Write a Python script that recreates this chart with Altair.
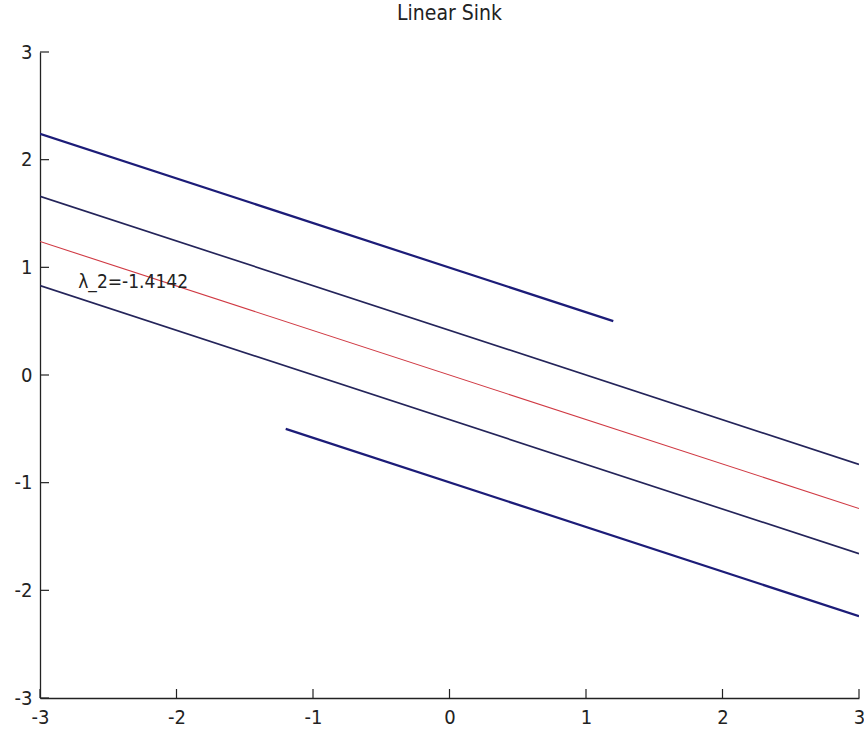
import altair as alt
import pandas as pd

# Trajectory segments (endpoints)
line_id = ["a", "a", "b", "b", "r", "r", "c", "c", "d", "d"]
line_x = [-3.0, 1.2, -3.0, 3.0, -3.0, 3.0, -3.0, 3.0, -1.2, 3.0]
line_y = [2.24, 0.50, 1.66, -0.83, 1.24, -1.24, 0.83, -1.66, -0.50, -2.24]
line_kind = ["thick", "thick", "thin", "thin", "red", "red", "thin", "thin", "thick", "thick"]

ticks = [-3, -2, -1, 0, 1, 2, 3]

label_text = ["λ_2=-1.4142"]
label_x = [-2.72]
label_y = [0.86]

df = pd.DataFrame({"id": line_id, "x": line_x, "y": line_y, "kind": line_kind})
tdf = pd.DataFrame({"t": ticks})
ldf = pd.DataFrame({"x": label_x, "y": label_y, "text": label_text})

W, H = 819, 646
FONT = "DejaVu Sans Condensed, Liberation Sans, sans-serif"
LBL = "datum.value < 0 ? '-' + abs(datum.value) : '' + datum.value"

xs = alt.Scale(domain=[-3, 3], nice=False, zero=False)
ys = alt.Scale(domain=[-3, 3], nice=False, zero=False)

xaxis = alt.Axis(values=ticks, labelExpr=LBL, ticks=False, grid=False, domainColor="#222", domainWidth=1.3,
                 labelFont=FONT, labelFontSize=20, labelColor="#222", labelPadding=9,
                 title=None, labelFlush=False)
yaxis = alt.Axis(values=ticks, labelExpr=LBL, ticks=False, grid=False, domainColor="#222", domainWidth=1.3,
                 labelFont=FONT, labelFontSize=20, labelColor="#222", labelPadding=8,
                 title=None, labelFlush=False)

lines = alt.Chart(df).mark_line(clip=True).encode(
    x=alt.X("x:Q", scale=xs, axis=xaxis),
    y=alt.Y("y:Q", scale=ys, axis=yaxis),
    detail="id:N",
    color=alt.Color("kind:N", scale=alt.Scale(domain=["thick", "thin", "red"],
                                               range=["#1c1c78", "#24245a", "#d03a44"]), legend=None),
    strokeWidth=alt.StrokeWidth("kind:N", scale=alt.Scale(domain=["thick", "thin", "red"],
                                                          range=[2.2, 1.1, 1.1]), legend=None),
)

xticks = alt.Chart(tdf).mark_rule(color="#222", strokeWidth=1.2).encode(
    x=alt.X("t:Q", scale=xs), y=alt.value(H), y2=alt.value(H - 9))
yticks = alt.Chart(tdf).mark_rule(color="#222", strokeWidth=1.2).encode(
    y=alt.Y("t:Q", scale=ys), x=alt.value(0), x2=alt.value(9))

label = alt.Chart(ldf).mark_text(align="left", baseline="middle", font=FONT, fontSize=19,
                                 color="#222").encode(
    x=alt.X("x:Q", scale=xs), y=alt.Y("y:Q", scale=ys), text="text:N")

chart = alt.layer(lines, xticks, yticks, label).properties(
    width=W, height=H,
    background="white",
    title=alt.TitleParams("Linear Sink", font=FONT, fontSize=21, fontWeight="normal",
                          color="#222", offset=18, anchor="middle"),
    autosize=alt.AutoSizeParams(type="none"),
    padding={"left": 40, "top": 52, "right": 5, "bottom": 31},
).configure_view(stroke=None)

chart.save("out.html", embed_options={"renderer": "svg", "actions": False})
